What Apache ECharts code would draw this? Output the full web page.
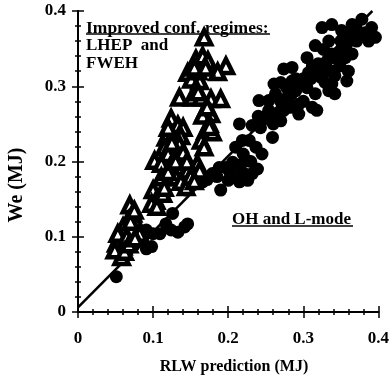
<!DOCTYPE html>
<html>
<head>
<meta charset="utf-8">
<script src="https://cdn.jsdelivr.net/npm/echarts@6/dist/echarts.min.js"></script>
<style>
  html, body { margin: 0; padding: 0; background: #fff; }
  #chart { width: 392px; height: 377px; }
</style>
</head>
<body>
<div id="chart"></div>
<script>
// tick labels
const xTicks = ['0', '0.1', '0.2', '0.3', '0.4']
const yTicks = ['0', '0.1', '0.2', '0.3', '0.4']

// improved confinement regimes (open triangles): [RLW prediction, We]
const improvedPoints = [
    [0.168, 0.365], [0.157, 0.336], [0.166, 0.340], [0.173, 0.334], [0.197, 0.327],
    [0.186, 0.319], [0.146, 0.318], [0.151, 0.309], [0.162, 0.307], [0.135, 0.285],
    [0.152, 0.285], [0.164, 0.285], [0.177, 0.283], [0.190, 0.283], [0.168, 0.265],
    [0.177, 0.263], [0.166, 0.261], [0.175, 0.250], [0.170, 0.241], [0.179, 0.239],
    [0.164, 0.228], [0.168, 0.219], [0.124, 0.257], [0.133, 0.248], [0.140, 0.245],
    [0.117, 0.232], [0.126, 0.234], [0.137, 0.234], [0.135, 0.223], [0.115, 0.219],
    [0.126, 0.219], [0.120, 0.210], [0.131, 0.208], [0.140, 0.212], [0.102, 0.201],
    [0.111, 0.197], [0.122, 0.192], [0.135, 0.192], [0.146, 0.188], [0.159, 0.197],
    [0.162, 0.188], [0.131, 0.179], [0.137, 0.173], [0.144, 0.166], [0.111, 0.157],
    [0.100, 0.162], [0.104, 0.148], [0.113, 0.157], [0.098, 0.144], [0.069, 0.142],
    [0.073, 0.131], [0.067, 0.122], [0.078, 0.117], [0.060, 0.113], [0.071, 0.109],
    [0.056, 0.100], [0.051, 0.091], [0.060, 0.087], [0.064, 0.095], [0.058, 0.073],
    [0.049, 0.082], [0.082, 0.104], [0.053, 0.104], [0.111, 0.179], [0.120, 0.186],
    [0.160, 0.320], [0.155, 0.325], [0.170, 0.325], [0.160, 0.292], [0.172, 0.272],
    [0.175, 0.246], [0.130, 0.200], [0.125, 0.225], [0.120, 0.245], [0.145, 0.200],
    [0.150, 0.180], [0.155, 0.174], [0.065, 0.100], [0.070, 0.120], [0.075, 0.135],
    [0.062, 0.080], [0.068, 0.090], [0.105, 0.140], [0.115, 0.165], [0.076, 0.098]
]

// OH and L-mode (filled circles): [RLW prediction, We]
const ohPoints = [
    [0.051, 0.047], [0.091, 0.084], [0.098, 0.087], [0.082, 0.095], [0.075, 0.089],
    [0.100, 0.104], [0.109, 0.104], [0.117, 0.117], [0.126, 0.131], [0.124, 0.109],
    [0.133, 0.106], [0.142, 0.113], [0.146, 0.117], [0.091, 0.109], [0.087, 0.100],
    [0.190, 0.162], [0.144, 0.162], [0.155, 0.170], [0.166, 0.173], [0.179, 0.184],
    [0.188, 0.192], [0.197, 0.192], [0.206, 0.179], [0.215, 0.173], [0.226, 0.175],
    [0.232, 0.184], [0.239, 0.190], [0.206, 0.199], [0.215, 0.195], [0.226, 0.201],
    [0.201, 0.188], [0.210, 0.219], [0.219, 0.228], [0.215, 0.250], [0.232, 0.248],
    [0.243, 0.245], [0.228, 0.228], [0.237, 0.219], [0.245, 0.210], [0.259, 0.232],
    [0.241, 0.281], [0.254, 0.268], [0.263, 0.263], [0.250, 0.257], [0.270, 0.254],
    [0.274, 0.268], [0.276, 0.283], [0.285, 0.290], [0.296, 0.303], [0.305, 0.298],
    [0.316, 0.290], [0.312, 0.272], [0.318, 0.268], [0.294, 0.276], [0.283, 0.272],
    [0.294, 0.263], [0.274, 0.323], [0.270, 0.305], [0.261, 0.303], [0.285, 0.307],
    [0.307, 0.318], [0.323, 0.312], [0.329, 0.305], [0.334, 0.294], [0.338, 0.303],
    [0.342, 0.290], [0.342, 0.314], [0.332, 0.334], [0.338, 0.343], [0.327, 0.349],
    [0.334, 0.360], [0.305, 0.338], [0.325, 0.378], [0.338, 0.382], [0.351, 0.374],
    [0.365, 0.382], [0.369, 0.369], [0.358, 0.356], [0.365, 0.343], [0.356, 0.338],
    [0.349, 0.327], [0.360, 0.320], [0.358, 0.307], [0.347, 0.334], [0.371, 0.360],
    [0.382, 0.371], [0.387, 0.360], [0.396, 0.365], [0.378, 0.389], [0.391, 0.378],
    [0.351, 0.347], [0.320, 0.330], [0.312, 0.327], [0.285, 0.325], [0.316, 0.354],
    [0.263, 0.290], [0.254, 0.281], [0.278, 0.298], [0.290, 0.294], [0.250, 0.260],
    [0.260, 0.250], [0.270, 0.280], [0.280, 0.280], [0.290, 0.310], [0.300, 0.310],
    [0.310, 0.310], [0.300, 0.280], [0.320, 0.320], [0.330, 0.320], [0.340, 0.320],
    [0.350, 0.360], [0.360, 0.370], [0.370, 0.380], [0.240, 0.260], [0.220, 0.210],
    [0.230, 0.200], [0.210, 0.180], [0.220, 0.185], [0.200, 0.175], [0.185, 0.180],
    [0.172, 0.176]
]

// fitted line
const fitLine = [[0, 0.006], [0.392, 0.4]]

const serif = '"Liberation Serif", "DejaVu Serif", serif'

const chartDom = document.getElementById('chart')
const myChart = echarts.init(chartDom)

const baseAxis = {
    type: 'value',
    min: 0,
    max: 0.4,
    interval: 0.1,
    splitLine: {show: false},
    axisLine: {show: true, lineStyle: {color: '#000', width: 2}},
    axisTick: {show: true, inside: true, length: 6, lineStyle: {color: '#000', width: 1.5}},
    minorTick: {show: true, splitNumber: 5, length: 3, lineStyle: {color: '#000', width: 1.5}},
    axisLabel: {show: false}
}

const tickLabel = {
    show: true,
    color: '#000',
    fontFamily: serif,
    fontWeight: 'bold',
    fontSize: 17
}

const option = {
    animation: false,
    backgroundColor: '#fff',
    grid: {left: 78, right: 12, top: 11, bottom: 65},
    xAxis: [
        {
            ...baseAxis,
            position: 'bottom',
            axisLabel: {...tickLabel, margin: 18, formatter: (v) => xTicks[Math.round(v * 10)]}
        },
        {...baseAxis, position: 'top'}
    ],
    yAxis: [
        {
            ...baseAxis,
            position: 'left',
            axisLabel: {...tickLabel, margin: 12, formatter: (v) => yTicks[Math.round(v * 10)]}
        },
        {...baseAxis, position: 'right'}
    ],
    series: [
        {
            name: 'fit',
            type: 'line',
            data: fitLine,
            symbol: 'none',
            lineStyle: {color: '#000', width: 2.5},
            z: 1
        },
        {
            name: 'OH and L-mode',
            type: 'scatter',
            data: ohPoints,
            symbol: 'circle',
            symbolSize: 13,
            itemStyle: {color: '#000', opacity: 1},
            z: 2
        },
        {
            name: 'Improved conf. regimes',
            type: 'scatter',
            data: improvedPoints,
            symbol: 'triangle',
            symbolSize: 14,
            itemStyle: {color: '#fff', borderColor: '#000', borderWidth: 4.5, opacity: 1},
            z: 3
        }
    ],
    graphic: [
        {
            type: 'text',
            left: 86,
            top: 19,
            style: {text: 'Improved conf. regimes:', font: 'bold 17.5px ' + serif, fill: '#000'}
        },
        {
            type: 'line',
            shape: {x1: 86, y1: 34, x2: 270, y2: 34},
            style: {stroke: '#000', lineWidth: 1.5}
        },
        {
            type: 'text',
            left: 86,
            top: 37,
            style: {text: 'LHEP  and', font: 'bold 17px ' + serif, fill: '#000'}
        },
        {
            type: 'text',
            left: 86,
            top: 55,
            style: {text: 'FWEH', font: 'bold 17px ' + serif, fill: '#000'}
        },
        {
            type: 'text',
            left: 232,
            top: 211,
            style: {text: 'OH and L-mode', font: 'bold 17px ' + serif, fill: '#000'}
        },
        {
            type: 'line',
            shape: {x1: 232, y1: 226, x2: 353, y2: 226},
            style: {stroke: '#000', lineWidth: 1.5}
        },
        {
            type: 'text',
            x: 234,
            y: 367,
            style: {
                text: 'RLW prediction (MJ)', font: 'bold 16px ' + serif, fill: '#000',
                align: 'center', verticalAlign: 'middle'
            }
        },
        {
            type: 'text',
            x: 17,
            y: 185,
            rotation: Math.PI / 2,
            style: {
                text: 'We (MJ)', font: 'bold 20px ' + serif, fill: '#000',
                align: 'center', verticalAlign: 'middle'
            }
        }
    ]
}

myChart.setOption(option)
</script>
</body>
</html>
